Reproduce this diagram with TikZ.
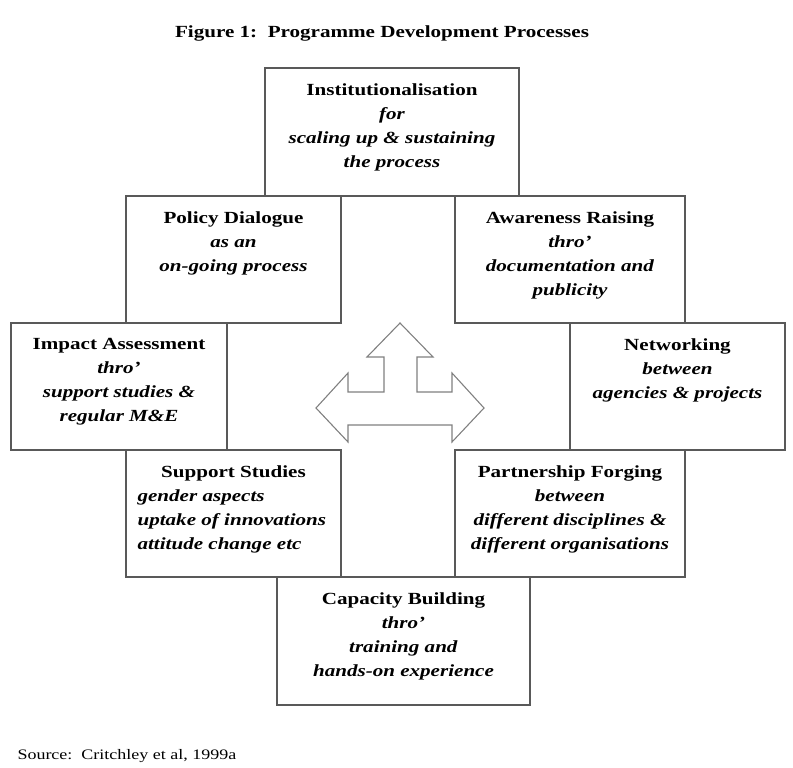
\documentclass[tikz,border=0pt]{standalone}
\usepackage{fontspec}
\setmainfont{Liberation Serif}[FakeStretch=1.24]
\usepackage{tikz}

\begin{document}
\begin{tikzpicture}[x=1pt,y=-1pt,
  procbox/.style={draw=black!65,line width=1.3pt,inner sep=0pt},
  proctext/.style={inner sep=0pt,anchor=north,align=center,
    font=\fontsize{17}{24}\selectfont}]
\useasboundingbox (0,0) rectangle (793,768);
\node [font=\fontsize{17}{20}\selectfont\bfseries] (title) at (382,33)
  {Figure 1:\ \ Programme Development Processes};
% the eight boxes
\node [procbox,minimum width=254pt,minimum height=128pt] (inst) at (392,132) {};
\node [procbox,minimum width=215pt,minimum height=127pt] (pol) at (233.5,259.5) {};
\node [procbox,minimum width=230pt,minimum height=127pt] (awa) at (570,259.5) {};
\node [procbox,minimum width=216pt,minimum height=127pt] (imp) at (119,386.5) {};
\node [procbox,minimum width=215pt,minimum height=127pt] (net) at (677.5,386.5) {};
\node [procbox,minimum width=215pt,minimum height=127pt] (sup) at (233.5,513.5) {};
\node [procbox,minimum width=230pt,minimum height=127pt] (par) at (570,513.5) {};
\node [procbox,minimum width=253pt,minimum height=128pt] (cap) at (403.5,641) {};
% texts
\node [proctext] (inst-t) at ([yshift=-16pt]inst.north)
  {\textbf{Institutionalisation}\\ \textbf{\itshape for}\\
   \textbf{\itshape scaling up \& sustaining}\\ \textbf{\itshape the process}};
\node [proctext] (pol-t) at ([yshift=-16pt]pol.north)
  {\textbf{Policy Dialogue}\\ \textbf{\itshape as an}\\ \textbf{\itshape on-going process}};
\node [proctext] (awa-t) at ([yshift=-16pt]awa.north)
  {\textbf{Awareness Raising}\\ \textbf{\itshape thro'}\\
   \textbf{\itshape documentation and}\\ \textbf{\itshape publicity}};
\node [proctext] (imp-t) at ([yshift=-16pt]imp.north)
  {\textbf{Impact Assessment}\\ \textbf{\itshape thro'}\\
   \textbf{\itshape support studies \&}\\ \textbf{\itshape regular M\&E}};
\node [proctext] (net-t) at ([yshift=-16pt]net.north)
  {\textbf{Networking}\\ \textbf{\itshape between}\\ \textbf{\itshape agencies \& projects}};
\node [proctext] (sup-t) at ([yshift=-16pt]sup.north) {\textbf{Support Studies}};
\node [proctext,anchor=north west,align=left] (sup-b)
  at ([xshift=12pt,yshift=-24pt]sup.west |- sup-t.north)
  {\textbf{\itshape gender aspects}\\
   \textbf{\itshape uptake of innovations}\\ \textbf{\itshape attitude change etc}};
\node [proctext] (par-t) at ([yshift=-16pt]par.north)
  {\textbf{Partnership Forging}\\ \textbf{\itshape between}\\
   \textbf{\itshape different disciplines \&}\\ \textbf{\itshape different organisations}};
\node [proctext] (cap-t) at ([yshift=-16pt]cap.north)
  {\textbf{Capacity Building}\\ \textbf{\itshape thro'}\\
   \textbf{\itshape training and}\\ \textbf{\itshape hands-on experience}};
% three way arrow in the middle
\draw [draw=black!50,line width=1.1pt,line join=miter]
  (400,323) -- (433,357) -- (417,357) -- (417,392) -- (452,392) -- (452,373)
  -- (484,408) -- (452,442) -- (452,425) -- (348,425) -- (348,442) -- (316,408)
  -- (348,373) -- (348,392) -- (384,392) -- (384,357) -- (367,357) -- cycle;
\node [anchor=west,font=\fontsize{14.5}{18}\selectfont] (src) at (14,756)
  {Source:\ \ Critchley et al, 1999a};
\end{tikzpicture}
\end{document}
